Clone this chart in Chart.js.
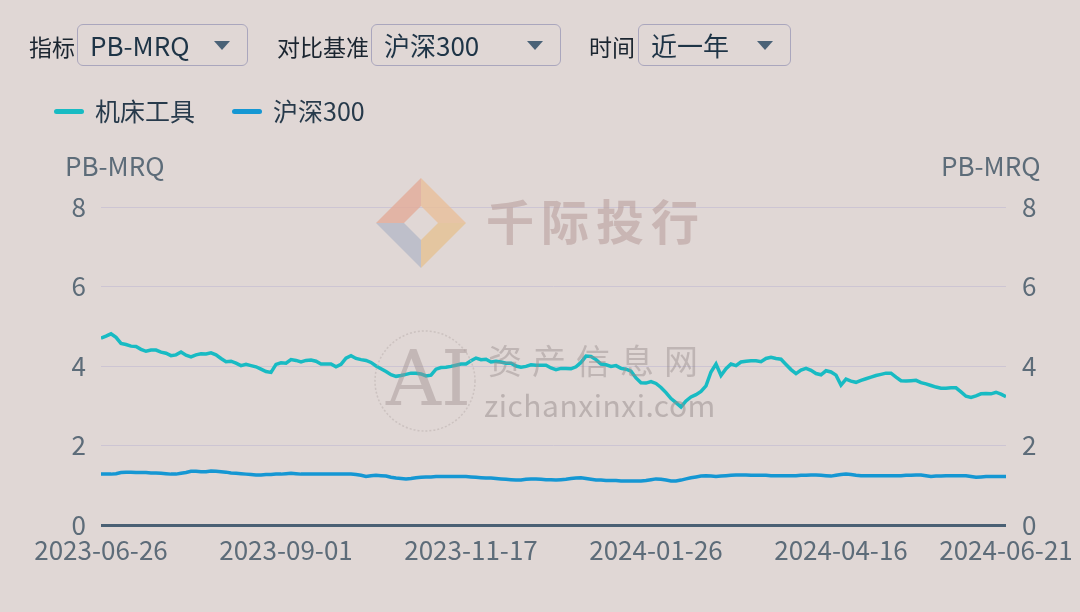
<!DOCTYPE html>
<html>
<head>
<meta charset="utf-8">
<script src="https://cdn.jsdelivr.net/npm/chart.js@4.4.1/dist/chart.umd.min.js"></script>
<style>
  html, body { margin: 0; padding: 0; }
  body {
    width: 1080px; height: 612px; overflow: hidden; position: relative;
    background: #e0d7d5;
    font-family: "Noto Sans CJK SC", "Noto Sans", sans-serif;
    color: #1e2f3c;
  }
  #wrap { position: absolute; left: 0; top: 0; width: 1080px; height: 612px; }
  .lbl { position: absolute; top: 27px; font-size: 23px; line-height: 38px; color: #1b2530; }
  .sel {
    position: absolute; top: 24px; height: 42px; box-sizing: border-box;
    border: 1.5px solid #aaa6bd; border-radius: 6px;
    font-size: 26px; line-height: 39px; padding-left: 12px; color: #1e3446;
  }
  .sel .tri {
    position: absolute; right: 17px; top: 16px; width: 0; height: 0;
    border-left: 8px solid transparent; border-right: 8px solid transparent;
    border-top: 9px solid #4a6277;
  }
  .leg { position: absolute; top: 91px; font-size: 25px; line-height: 38px; color: #273a4b; }
  .leg i { position: absolute; top: 18px; width: 30px; height: 5px; border-radius: 2.5px; }
  .leg span { position: absolute; left: 41px; white-space: nowrap; }
  .atitle { position: absolute; top: 147px; font-size: 26px; line-height: 36px; color: #5d6c79; }
  .wm { position: absolute; pointer-events: none; white-space: nowrap; }
</style>
</head>
<body>
<div id="wrap"><canvas id="chart"></canvas></div>

<!-- controls -->
<div class="lbl" style="left:29px">指标</div>
<div class="sel" style="left:77px;width:171px">PB-MRQ<i class="tri"></i></div>
<div class="lbl" style="left:277px">对比基准</div>
<div class="sel" style="left:371px;width:190px">沪深300<i class="tri"></i></div>
<div class="lbl" style="left:589px">时间</div>
<div class="sel" style="left:638px;width:153px">近一年<i class="tri"></i></div>

<!-- legend -->
<div class="leg" style="left:54px"><i style="background:#18bbc3"></i><span>机床工具</span></div>
<div class="leg" style="left:232px"><i style="background:#1597d3"></i><span>沪深300</span></div>

<!-- axis titles -->
<div class="atitle" style="left:65px">PB-MRQ</div>
<div class="atitle" style="left:941px">PB-MRQ</div>

<!-- watermarks -->
<svg class="wm" style="left:374px;top:176px" width="94" height="94" viewBox="0 0 94 94">
  <polygon points="47,2 47,30 30,47 2,47" fill="#e3a894" opacity="0.75"/>
  <polygon points="47,2 92,47 64,47 47,30" fill="#e9bd95" opacity="0.75"/>
  <polygon points="2,47 30,47 47,64 47,92" fill="#b3b7c6" opacity="0.75"/>
  <polygon points="64,47 92,47 47,92 47,64" fill="#e6c08e" opacity="0.75"/>
</svg>
<div class="wm" style="left:486px;top:184px;font-size:48px;letter-spacing:7px;color:rgba(185,160,158,0.6);font-weight:bold">千际投行</div>
<svg class="wm" style="left:372px;top:328px" width="106" height="106">
  <circle cx="53" cy="53" r="50" fill="none" stroke="rgba(190,180,178,0.6)" stroke-width="1.5" stroke-dasharray="2,2"/>
</svg>
<div class="wm" style="left:386px;top:334px;font-size:76px;font-family:'DejaVu Serif',serif;color:rgba(160,145,145,0.45)">AI</div>
<div class="wm" style="left:488px;top:335px;font-size:34px;letter-spacing:10px;color:rgba(150,140,140,0.45)">资产信息网</div>
<div class="wm" style="left:484px;top:382px;font-size:30px;letter-spacing:0.5px;color:rgba(150,140,140,0.5)">zichanxinxi.com</div>

<script>
// ======================= DATA =======================
const seriesNames = ['机床工具', '沪深300'];

const tickIdx = [0, 37, 74, 111, 148, 181];
const tickLabels = ['2023-06-26', '2023-09-01', '2023-11-17', '2024-01-26', '2024-04-16', '2024-06-21'];

const yTicks = [0, 2, 4, 6, 8];

// 机床工具 PB-MRQ
const machineTools = [
  4.70, 4.75, 4.81, 4.72, 4.57, 4.54, 4.50, 4.49, 4.42, 4.37,
  4.40, 4.40, 4.35, 4.32, 4.26, 4.28, 4.35, 4.27, 4.23, 4.28,
  4.31, 4.30, 4.33, 4.28, 4.19, 4.11, 4.12, 4.07, 4.01, 4.04,
  4.01, 3.98, 3.92, 3.86, 3.84, 4.04, 4.08, 4.07, 4.16, 4.14,
  4.10, 4.14, 4.15, 4.12, 4.05, 4.05, 4.05, 3.98, 4.04, 4.20,
  4.26, 4.19, 4.16, 4.14, 4.09, 4.00, 3.93, 3.86, 3.78, 3.74,
  3.76, 3.79, 3.82, 3.82, 3.80, 3.75, 3.77, 3.92, 3.96, 3.97,
  3.99, 4.02, 4.05, 4.05, 4.13, 4.20, 4.16, 4.17, 4.10, 4.12,
  4.10, 4.07, 4.07, 4.00, 3.97, 3.99, 4.03, 4.02, 4.02, 4.02,
  3.95, 3.91, 3.94, 3.94, 3.93, 3.98, 4.09, 4.25, 4.24, 4.16,
  4.05, 4.03, 3.99, 4.01, 3.94, 3.92, 3.87, 3.70, 3.58, 3.57,
  3.61, 3.56, 3.46, 3.33, 3.18, 3.08, 2.97, 3.12, 3.22, 3.28,
  3.36, 3.50, 3.85, 4.05, 3.76, 3.93, 4.05, 4.01, 4.10, 4.12,
  4.13, 4.13, 4.11, 4.19, 4.22, 4.19, 4.17, 4.04, 3.91, 3.81,
  3.90, 3.94, 3.89, 3.81, 3.78, 3.88, 3.85, 3.77, 3.52, 3.67,
  3.62, 3.59, 3.64, 3.68, 3.72, 3.76, 3.79, 3.82, 3.82, 3.72,
  3.63, 3.62, 3.63, 3.64, 3.58, 3.55, 3.51, 3.47, 3.44, 3.44,
  3.45, 3.45, 3.35, 3.24, 3.21, 3.25, 3.30, 3.31, 3.30, 3.34,
  3.29, 3.23
];

// 沪深300 PB-MRQ
const hs300 = [
  1.28, 1.28, 1.28, 1.29, 1.32, 1.33, 1.33, 1.32, 1.32, 1.32,
  1.31, 1.31, 1.30, 1.29, 1.28, 1.28, 1.30, 1.32, 1.35, 1.35,
  1.34, 1.34, 1.36, 1.35, 1.34, 1.33, 1.31, 1.30, 1.29, 1.28,
  1.27, 1.26, 1.26, 1.27, 1.27, 1.28, 1.28, 1.29, 1.30, 1.29,
  1.28, 1.28, 1.28, 1.28, 1.28, 1.28, 1.28, 1.28, 1.28, 1.28,
  1.28, 1.27, 1.25, 1.22, 1.24, 1.25, 1.24, 1.23, 1.20, 1.18,
  1.17, 1.16, 1.17, 1.19, 1.20, 1.21, 1.21, 1.22, 1.22, 1.22,
  1.22, 1.22, 1.22, 1.22, 1.21, 1.20, 1.19, 1.18, 1.18, 1.17,
  1.16, 1.15, 1.14, 1.13, 1.13, 1.15, 1.16, 1.16, 1.15, 1.14,
  1.14, 1.13, 1.14, 1.15, 1.17, 1.18, 1.19, 1.17, 1.15, 1.13,
  1.13, 1.12, 1.12, 1.12, 1.11, 1.11, 1.11, 1.11, 1.11, 1.12,
  1.14, 1.16, 1.15, 1.13, 1.11, 1.11, 1.13, 1.16, 1.19, 1.21,
  1.23, 1.24, 1.23, 1.22, 1.23, 1.24, 1.25, 1.26, 1.26, 1.26,
  1.25, 1.25, 1.25, 1.25, 1.24, 1.24, 1.24, 1.24, 1.24, 1.24,
  1.25, 1.25, 1.26, 1.26, 1.25, 1.24, 1.23, 1.25, 1.27, 1.28,
  1.27, 1.25, 1.24, 1.24, 1.24, 1.24, 1.24, 1.24, 1.24, 1.24,
  1.24, 1.25, 1.25, 1.26, 1.26, 1.24, 1.22, 1.23, 1.23, 1.24,
  1.24, 1.24, 1.24, 1.24, 1.22, 1.20, 1.21, 1.22, 1.22, 1.22,
  1.22, 1.22
];

// ======================= CHART =======================
const tickFont = { family: '"Noto Sans CJK SC", "Noto Sans", sans-serif', size: 26 };
const tickColor = '#5d6c79';

function toPoints(arr) {
  return arr.map((v, i) => ({ x: i, y: v }));
}

function yScale(pos) {
  return {
    type: 'linear',
    position: pos,
    min: 0, max: 8,
    afterBuildTicks: s => { s.ticks = yTicks.map(v => ({ value: v })); },
    afterFit: s => {
      s.width = pos === 'left' ? 101 : 74;
      s.paddingTop = 0; s.paddingBottom = 0;
    },
    border: { display: false },
    grid: pos === 'left' ? {
      drawTicks: false,
      color: c => c.tick && c.tick.value === 0 ? '#4a6074' : '#cdc5d3',
      lineWidth: c => c.tick && c.tick.value === 0 ? 3 : 1
    } : { display: false, drawTicks: false },
    ticks: { color: tickColor, font: tickFont, padding: pos === 'left' ? 15 : 16 }
  };
}

const ctx = document.getElementById('chart').getContext('2d');
new Chart(ctx, {
  type: 'line',
  data: {
    datasets: [
      {
        label: seriesNames[0],
        data: toPoints(machineTools),
        borderColor: '#18bbc3',
        borderWidth: 3.5,
        pointRadius: 0,
        tension: 0,
        yAxisID: 'y'
      },
      {
        label: seriesNames[1],
        data: toPoints(hs300),
        borderColor: '#1597d3',
        borderWidth: 3.5,
        pointRadius: 0,
        tension: 0,
        yAxisID: 'y'
      }
    ]
  },
  options: {
    responsive: true,
    maintainAspectRatio: false,
    animation: false,
    layout: { padding: { top: 207, left: 0, right: 0, bottom: 0 } },
    plugins: { legend: { display: false }, tooltip: { enabled: false } },
    scales: {
      x: {
        type: 'linear',
        min: 0, max: tickIdx[tickIdx.length - 1],
        afterBuildTicks: s => { s.ticks = tickIdx.map(v => ({ value: v })); },
        afterFit: s => {
          s.height = 87;
          s.paddingLeft = 0; s.paddingRight = 0;
        },
        border: { display: false },
        grid: { display: false, drawTicks: false },
        ticks: {
          color: tickColor, font: tickFont, padding: 10,
          maxRotation: 0, autoSkip: false,
          callback: v => tickLabels[tickIdx.indexOf(v)]
        }
      },
      y: yScale('left'),
      y2: yScale('right')
    }
  }
});
</script>
</body>
</html>
